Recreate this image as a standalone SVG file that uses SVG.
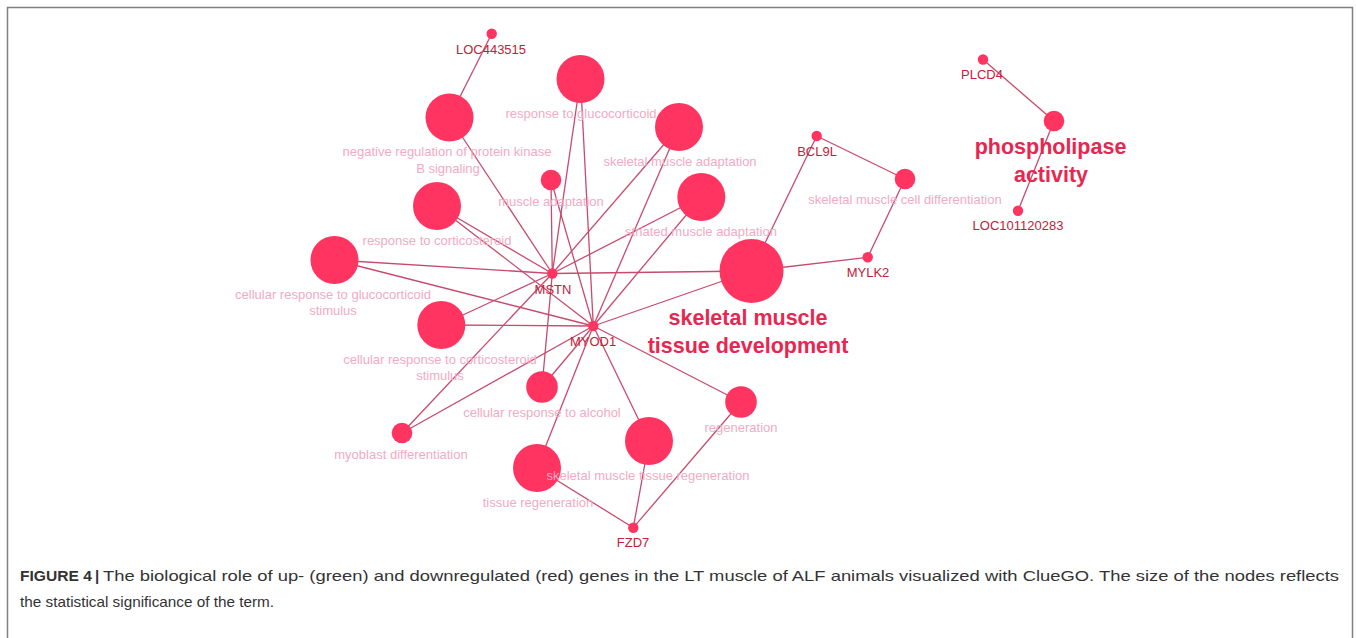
<svg xmlns="http://www.w3.org/2000/svg" width="1356" height="638" viewBox="0 0 1356 638">
<style>
  .n { fill: #ff3461; }
  .e { stroke: #c84a6d; stroke-width: 1.3; fill: none; }
  .t { font-family: "Liberation Sans", Arial, sans-serif; font-size: 13px; fill: #f3aac3; text-anchor: middle; }
  .g { font-family: "Liberation Sans", Arial, sans-serif; font-size: 13px; fill: #c42038; text-anchor: middle; }
  .b { font-family: "Liberation Sans", Arial, sans-serif; font-size: 21.5px; font-weight: bold; fill: #e8264f; text-anchor: middle; }
  .cap { font-family: "Liberation Sans", Arial, sans-serif; font-size: 15px; fill: #333333; }
</style>
<rect width="1356" height="638" fill="#ffffff"/>
<path d="M7.5,640 V7.5 H1352.5 V640" fill="none" stroke="#808080" stroke-width="1.5"/>

<g id="connectors">
  <line class="e" x1="491.7" y1="33.7" x2="449.5" y2="117.5"/>
  <line class="e" x1="449.5" y1="117.5" x2="552.3" y2="273.5"/>
  <line class="e" x1="580.5" y1="79" x2="552.3" y2="273.5"/>
  <line class="e" x1="580.5" y1="79" x2="593.3" y2="326"/>
  <line class="e" x1="679" y1="127" x2="552.3" y2="273.5"/>
  <line class="e" x1="679" y1="127" x2="593.3" y2="326"/>
  <line class="e" x1="551" y1="180" x2="552.3" y2="273.5"/>
  <line class="e" x1="551" y1="180" x2="593.3" y2="326"/>
  <line class="e" x1="701.3" y1="197" x2="552.3" y2="273.5"/>
  <line class="e" x1="701.3" y1="197" x2="593.3" y2="326"/>
  <line class="e" x1="751.5" y1="271" x2="552.3" y2="273.5"/>
  <line class="e" x1="751.5" y1="271" x2="593.3" y2="326"/>
  <line class="e" x1="437" y1="206" x2="552.3" y2="273.5"/>
  <line class="e" x1="437" y1="206" x2="593.3" y2="326"/>
  <line class="e" x1="334.5" y1="260" x2="552.3" y2="273.5"/>
  <line class="e" x1="334.5" y1="260" x2="593.3" y2="326"/>
  <line class="e" x1="441.3" y1="325" x2="552.3" y2="273.5"/>
  <line class="e" x1="441.3" y1="325" x2="593.3" y2="326"/>
  <line class="e" x1="542" y1="387" x2="552.3" y2="273.5"/>
  <line class="e" x1="542" y1="387" x2="593.3" y2="326"/>
  <line class="e" x1="402" y1="433" x2="552.3" y2="273.5"/>
  <line class="e" x1="402" y1="433" x2="593.3" y2="326"/>
  <line class="e" x1="537" y1="468" x2="593.3" y2="326"/>
  <line class="e" x1="649" y1="441" x2="593.3" y2="326"/>
  <line class="e" x1="741" y1="402" x2="593.3" y2="326"/>
  <line class="e" x1="537" y1="468" x2="633.3" y2="527.7"/>
  <line class="e" x1="649" y1="441" x2="633.3" y2="527.7"/>
  <line class="e" x1="741" y1="402" x2="633.3" y2="527.7"/>
  <line class="e" x1="751.5" y1="271" x2="816.7" y2="136"/>
  <line class="e" x1="751.5" y1="271" x2="867.7" y2="257.3"/>
  <line class="e" x1="816.7" y1="136" x2="905" y2="179"/>
  <line class="e" x1="867.7" y1="257.3" x2="905" y2="179"/>
  <line class="e" x1="983" y1="59.5" x2="1054" y2="121"/>
  <line class="e" x1="1054" y1="121" x2="1018" y2="210.7"/>
</g>

<g id="node-LOC443515"><circle class="n" cx="491.7" cy="33.7" r="5.2"/><text class="g" x="491" y="54">LOC443515</text></g>
<g id="node-neg-reg-pkb"><circle class="n" cx="449.5" cy="117.5" r="24"/><text class="t" x="447" y="156">negative regulation of protein kinase</text><text class="t" x="448" y="172.5">B signaling</text></g>
<g id="node-resp-glucocorticoid"><circle class="n" cx="580.5" cy="79" r="24"/><text class="t" x="581" y="118">response to glucocorticoid</text></g>
<g id="node-sk-muscle-adaptation"><circle class="n" cx="679" cy="127" r="24"/><text class="t" x="680" y="165.5">skeletal muscle adaptation</text></g>
<g id="node-muscle-adaptation"><circle class="n" cx="551" cy="180" r="10.3"/><text class="t" x="551" y="205.5">muscle adaptation</text></g>
<g id="node-striated-adaptation"><circle class="n" cx="701.3" cy="197" r="24"/><text class="t" x="701" y="235.5">striated muscle adaptation</text></g>
<g id="node-sk-tissue-development"><circle class="n" cx="751.5" cy="271" r="32"/><text class="b" x="748" y="325">skeletal muscle</text><text class="b" x="748" y="353">tissue development</text></g>
<g id="node-resp-corticosteroid"><circle class="n" cx="437" cy="206" r="24"/><text class="t" x="437" y="244.5">response to corticosteroid</text></g>
<g id="node-cell-resp-gluco"><circle class="n" cx="334.5" cy="260" r="24"/><text class="t" x="333" y="298.5">cellular response to glucocorticoid</text><text class="t" x="333" y="315">stimulus</text></g>
<g id="node-cell-resp-cortico"><circle class="n" cx="441.3" cy="325" r="24"/><text class="t" x="440" y="363.5">cellular response to corticosteroid</text><text class="t" x="440" y="380">stimulus</text></g>
<g id="node-cell-resp-alcohol"><circle class="n" cx="542" cy="387" r="15.8"/><text class="t" x="542" y="417">cellular response to alcohol</text></g>
<g id="node-myoblast-diff"><circle class="n" cx="402" cy="433" r="10.3"/><text class="t" x="401" y="458.5">myoblast differentiation</text></g>
<g id="node-tissue-regen"><circle class="n" cx="537" cy="468" r="24"/><text class="t" x="538" y="507">tissue regeneration</text></g>
<g id="node-sk-tissue-regen"><circle class="n" cx="649" cy="441" r="24"/><text class="t" x="648" y="480">skeletal muscle tissue regeneration</text></g>
<g id="node-regeneration"><circle class="n" cx="741" cy="402" r="15.8"/><text class="t" x="741" y="432">regeneration</text></g>
<g id="node-MSTN"><circle class="n" cx="552.3" cy="273.5" r="5.2"/><text class="g" x="553" y="293.7">MSTN</text></g>
<g id="node-MYOD1"><circle class="n" cx="593.3" cy="326" r="5.2"/><text class="g" x="593" y="346.4">MYOD1</text></g>
<g id="node-FZD7"><circle class="n" cx="633.3" cy="527.7" r="5.2"/><text class="g" x="633" y="547.4">FZD7</text></g>
<g id="node-BCL9L"><circle class="n" cx="816.7" cy="136" r="5.2"/><text class="g" x="817" y="156">BCL9L</text></g>
<g id="node-MYLK2"><circle class="n" cx="867.7" cy="257.3" r="5.2"/><text class="g" x="868" y="277.4">MYLK2</text></g>
<g id="node-sk-cell-diff"><circle class="n" cx="905" cy="179" r="10.3"/><text class="t" x="905" y="203.5">skeletal muscle cell differentiation</text></g>
<g id="node-PLCD4"><circle class="n" cx="983" cy="59.5" r="5.2"/><text class="g" x="982" y="79">PLCD4</text></g>
<g id="node-phospholipase"><circle class="n" cx="1054" cy="121" r="10.3"/><text class="b" x="1050.5" y="154">phospholipase</text><text class="b" x="1051" y="181.5">activity</text></g>
<g id="node-LOC101120283"><circle class="n" cx="1018" cy="210.7" r="5.2"/><text class="g" x="1018" y="229.7">LOC101120283</text></g>

<g id="caption">
  <text class="cap" x="20" y="581"><tspan font-weight="bold" textLength="72" lengthAdjust="spacingAndGlyphs">FIGURE 4</tspan></text>
  <text class="cap" x="95" y="581" font-weight="bold">|</text>
  <text class="cap" x="103" y="581" textLength="1236" lengthAdjust="spacingAndGlyphs">The biological role of up- (green) and downregulated (red) genes in the LT muscle of ALF animals visualized with ClueGO. The size of the nodes reflects</text>
  <text class="cap" x="20" y="607" textLength="254" lengthAdjust="spacingAndGlyphs">the statistical significance of the term.</text>
</g>
</svg>
